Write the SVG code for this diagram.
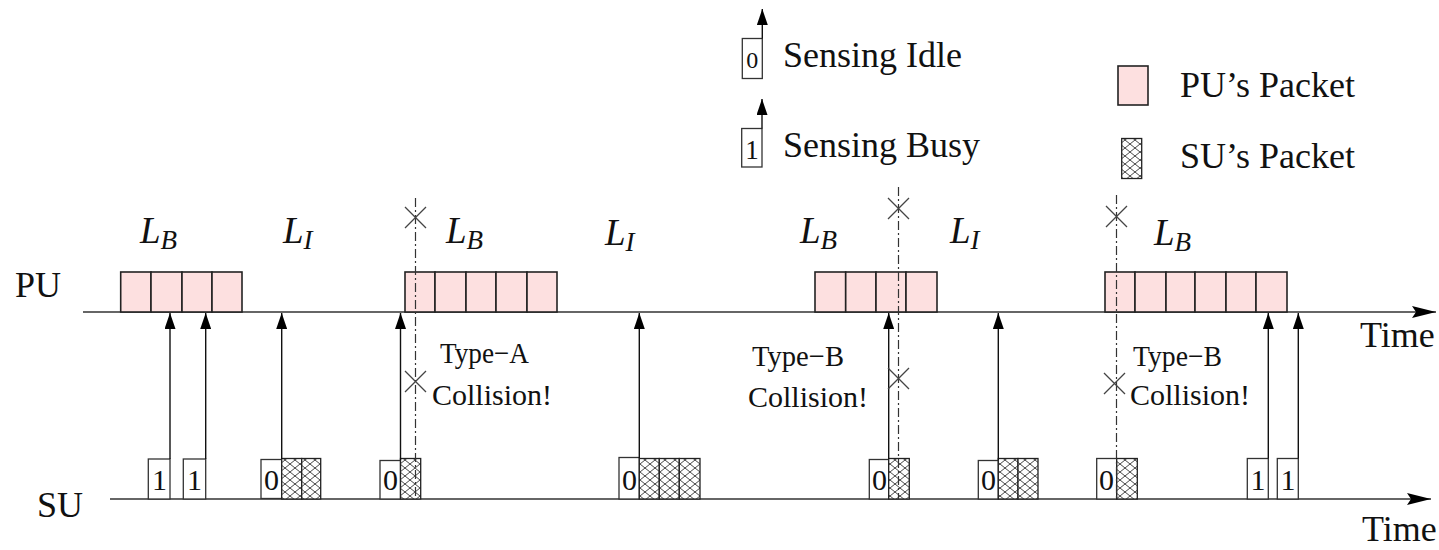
<svg xmlns="http://www.w3.org/2000/svg" width="1439" height="550" viewBox="0 0 1439 550">
<style>
.t{font-family:"Liberation Serif","Times New Roman",serif;fill:#111}
.lbl{font-size:36px}
.ty{font-size:30px}
.dg{font-size:30px;text-anchor:middle}
.m{font-family:"Liberation Serif","Times New Roman",serif;font-style:italic;font-size:37px;fill:#111}
.pk{fill:#fde0e0;stroke:#222;stroke-width:1.6}
.sb{fill:#fff;stroke:#333;stroke-width:1.3}
.hb{fill:url(#hatch);stroke:#222;stroke-width:1.3}
.ax{stroke:#666;stroke-width:2;fill:none}
.up{stroke:#111;stroke-width:1.4;fill:none;marker-end:url(#ah)}
.dd{stroke:#333;stroke-width:1.2;stroke-dasharray:9 3 2 3;fill:none}
.x{stroke:#444;stroke-width:1.3;fill:none}
</style>
<defs>
<marker id="ah" viewBox="0 0 16 11" refX="16" refY="5.5" markerWidth="16" markerHeight="11" markerUnits="userSpaceOnUse" orient="auto">
<path d="M0,0 L16,5.5 L0,11 Z" fill="#000"/>
</marker>
<marker id="axh" viewBox="0 0 24 12" refX="24" refY="6" markerWidth="24" markerHeight="12" markerUnits="userSpaceOnUse" orient="auto">
<path d="M0,0 L24,6 L0,12 L4,6 Z" fill="#000"/>
</marker>
<pattern id="hatch" width="10" height="8" patternUnits="userSpaceOnUse">
<rect width="10" height="8" fill="#fff"/>
<path d="M0,0 L10,8 M10,0 L0,8" stroke="#333" stroke-width="0.9"/>
</pattern>
</defs>
<rect width="1439" height="550" fill="#fff"/>

<g id="axes">
<line class="ax" x1="83" y1="312" x2="1436" y2="312" marker-end="url(#axh)"/>
<line class="ax" x1="110" y1="499" x2="1431" y2="499" marker-end="url(#axh)"/>
<text class="t lbl" x="15" y="297">PU</text>
<text class="t lbl" x="37" y="517">SU</text>
<text class="t lbl" x="1360" y="347">Time</text>
<text class="t lbl" x="1362" y="541">Time</text>
</g>

<g id="pu-packets-1">
<rect class="pk" x="120.7" y="272" width="30.3" height="40"/>
<rect class="pk" x="151" y="272" width="31" height="40"/>
<rect class="pk" x="182" y="272" width="30" height="40"/>
<rect class="pk" x="212" y="272" width="30" height="40"/>
</g>
<g id="pu-packets-2">
<rect class="pk" x="405" y="272" width="30" height="40"/>
<rect class="pk" x="435" y="272" width="31" height="40"/>
<rect class="pk" x="466" y="272" width="30" height="40"/>
<rect class="pk" x="496" y="272" width="31" height="40"/>
<rect class="pk" x="527" y="272" width="30" height="40"/>
</g>
<g id="pu-packets-3">
<rect class="pk" x="815" y="272" width="30.7" height="40"/>
<rect class="pk" x="845.7" y="272" width="30.3" height="40"/>
<rect class="pk" x="876" y="272" width="30" height="40"/>
<rect class="pk" x="906" y="272" width="31" height="40"/>
</g>
<g id="pu-packets-4">
<rect class="pk" x="1105" y="272" width="30" height="40"/>
<rect class="pk" x="1135" y="272" width="31" height="40"/>
<rect class="pk" x="1166" y="272" width="29" height="40"/>
<rect class="pk" x="1195" y="272" width="31" height="40"/>
<rect class="pk" x="1226" y="272" width="30" height="40"/>
<rect class="pk" x="1256" y="272" width="31" height="40"/>
</g>

<g id="labels-L">
<text class="m" x="140" y="243">L<tspan font-size="27" dy="6">B</tspan></text>
<text class="m" x="283" y="243">L<tspan font-size="27" dy="6">I</tspan></text>
<text class="m" x="446" y="243">L<tspan font-size="27" dy="6">B</tspan></text>
<text class="m" x="605" y="245">L<tspan font-size="27" dy="6">I</tspan></text>
<text class="m" x="800" y="243">L<tspan font-size="27" dy="6">B</tspan></text>
<text class="m" x="950" y="243">L<tspan font-size="27" dy="6">I</tspan></text>
<text class="m" x="1154" y="245">L<tspan font-size="27" dy="6">B</tspan></text>
</g>

<g id="su-slots">
<rect class="sb" x="148.3" y="459" width="21.7" height="40"/>
<text class="t dg" x="159.5" y="490">1</text>
<rect class="sb" x="183.3" y="459" width="22.4" height="40"/>
<text class="t dg" x="194.5" y="490">1</text>

<rect class="sb" x="261" y="459.5" width="20.7" height="39"/>
<text class="t dg" x="271.5" y="490">0</text>
<rect class="hb" x="281.7" y="458.5" width="20" height="40.5"/>
<rect class="hb" x="301.7" y="458.5" width="19" height="40.5"/>

<rect class="sb" x="380" y="460.5" width="20.5" height="38.5"/>
<text class="t dg" x="390.5" y="490">0</text>
<rect class="hb" x="400.5" y="458.5" width="20.2" height="40.5"/>

<rect class="sb" x="619" y="457.5" width="20.3" height="41.5"/>
<text class="t dg" x="629.5" y="490">0</text>
<rect class="hb" x="639.3" y="458.5" width="20" height="40.5"/>
<rect class="hb" x="659.3" y="458.5" width="20" height="40.5"/>
<rect class="hb" x="679.3" y="458.5" width="20.7" height="40.5"/>

<rect class="sb" x="869.3" y="459.5" width="19.4" height="39.5"/>
<text class="t dg" x="879.5" y="490">0</text>
<rect class="hb" x="888.7" y="458.5" width="20.6" height="40.5"/>

<rect class="sb" x="978.3" y="460.5" width="20" height="38.5"/>
<text class="t dg" x="988.5" y="490">0</text>
<rect class="hb" x="998.3" y="458.5" width="19.7" height="40.5"/>
<rect class="hb" x="1018" y="458.5" width="20" height="40.5"/>

<rect class="sb" x="1096.7" y="458.5" width="20" height="40.5"/>
<text class="t dg" x="1106.5" y="490">0</text>
<rect class="hb" x="1116.7" y="458.5" width="20.6" height="40.5"/>

<rect class="sb" x="1247.3" y="458.5" width="21" height="40.5"/>
<text class="t dg" x="1258" y="490">1</text>
<rect class="sb" x="1277.3" y="458.5" width="21" height="40.5"/>
<text class="t dg" x="1288" y="490">1</text>
</g>

<g id="connectors">
<line class="up" x1="170" y1="459" x2="170" y2="313"/>
<line class="up" x1="205.7" y1="459" x2="205.7" y2="313"/>
<line class="up" x1="281.7" y1="459" x2="281.7" y2="313"/>
<line class="up" x1="400.5" y1="460" x2="400.5" y2="313"/>
<line class="up" x1="639.3" y1="458" x2="639.3" y2="313"/>
<line class="up" x1="888.7" y1="459" x2="888.7" y2="313"/>
<line class="up" x1="998.3" y1="460" x2="998.3" y2="313"/>
<line class="up" x1="1268.3" y1="458.5" x2="1268.3" y2="313"/>
<line class="up" x1="1298.3" y1="458.5" x2="1298.3" y2="313"/>
<line class="dd" x1="415.5" y1="198" x2="415.5" y2="499"/>
<line class="dd" x1="898.5" y1="187" x2="898.5" y2="499"/>
<line class="dd" x1="1116.5" y1="195" x2="1116.5" y2="499"/>
</g>

<g id="collision-marks">
<path class="x" d="M405,207 L426,228 M426,207 L405,228"/>
<path class="x" d="M405,371 L426,392 M426,371 L405,392"/>
<path class="x" d="M888,198 L909,219 M909,198 L888,219"/>
<path class="x" d="M888,368 L909,389 M909,368 L888,389"/>
<path class="x" d="M1106,206 L1127,227 M1127,206 L1106,227"/>
<path class="x" d="M1104,373 L1125,394 M1125,373 L1104,394"/>
</g>

<g id="collision-text">
<text class="t ty" x="440" y="363" textLength="89" lengthAdjust="spacingAndGlyphs">Type−A</text>
<text class="t ty" x="432" y="405">Collision!</text>
<text class="t ty" x="752" y="366" textLength="92" lengthAdjust="spacingAndGlyphs">Type−B</text>
<text class="t ty" x="748" y="407">Collision!</text>
<text class="t ty" x="1133" y="366" textLength="89" lengthAdjust="spacingAndGlyphs">Type−B</text>
<text class="t ty" x="1130" y="405">Collision!</text>
</g>

<g id="legend-sensing">
<rect class="sb" x="742.3" y="38.5" width="20" height="40"/>
<text class="t" x="752.3" y="68" font-size="24" text-anchor="middle">0</text>
<line class="up" x1="762.3" y1="38.5" x2="762.3" y2="9"/>
<text class="t lbl" x="783" y="67">Sensing Idle</text>
<rect class="sb" x="741.7" y="128.5" width="20.3" height="38.5"/>
<text class="t" x="752" y="159" font-size="27" text-anchor="middle">1</text>
<line class="up" x1="762" y1="128.5" x2="762" y2="99"/>
<text class="t lbl" x="783" y="157">Sensing Busy</text>
</g>

<g id="legend-packets">
<rect class="pk" x="1118" y="66" width="30" height="39"/>
<text class="t lbl" x="1180" y="97">PU’s Packet</text>
<rect class="hb" x="1121.7" y="138.5" width="20" height="40"/>
<text class="t lbl" x="1180" y="168">SU’s Packet</text>
</g>
</svg>
